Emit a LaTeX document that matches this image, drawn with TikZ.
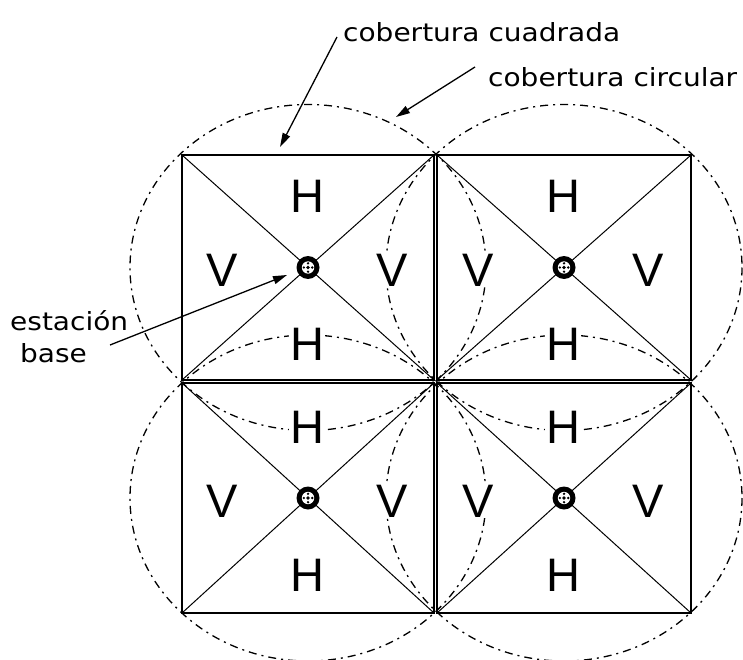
\documentclass[tikz,border=0pt]{standalone}
\usepackage{fontspec}
\setmainfont{Liberation Sans}
\newfontfamily\labelfont{DejaVu Sans}
\usetikzlibrary{arrows.meta,calc}
\begin{document}
\begin{tikzpicture}[x=1pt,y=-1pt,
  sq/.style={draw, line width=1.7pt},
  diag/.style={line width=1pt},
  cov/.style={line width=1.3pt, dash pattern=on 8pt off 5pt on 2pt off 5pt},
  letter/.style={inner sep=0.6pt, fill=white, font=\fontsize{47}{47}\selectfont},
  lbl/.style={inner sep=0pt, anchor=base west, font=\labelfont\fontsize{25}{25}\selectfont},
  pointer/.style={line width=1.3pt, -{Triangle[length=14pt,width=8pt]}},
]
\useasboundingbox (0,0) rectangle (743,660);
% square corners and centres
\foreach \n/\l/\t/\r/\b in {tl/182/155/434/380, tr/437/155/691/380, bl/182/383/434/613, br/437/383/691/613} {
  \coordinate (\n-nw) at (\l,\t);
  \coordinate (\n-ne) at (\r,\t);
  \coordinate (\n-sw) at (\l,\b);
  \coordinate (\n-se) at (\r,\b);
  \coordinate (\n-c) at ({(\l+\r)/2},{(\t+\b)/2});
}
% circular coverage
\foreach \n in {tl,tr,bl,br}
  \draw[cov] (\n-c) ellipse [x radius=178, y radius=163];
% square coverage with diagonals
\foreach \n in {tl,tr,bl,br} {
  \draw[sq] (\n-nw) rectangle (\n-se);
  \draw[diag] (\n-nw) -- (\n-se) (\n-ne) -- (\n-sw);
}
% letters and base stations
\foreach \n in {tl,tr,bl,br} {
  \node[letter] (\n-h1) at ($(\n-c)+(-1,-71)$) {H};
  \node[letter] (\n-h2) at ($(\n-c)+(-1,77)$) {H};
  \node[letter] (\n-v1) at ($(\n-c)+(-86,3)$) {V};
  \node[letter] (\n-v2) at ($(\n-c)+(84,3)$) {V};
  \node[circle, fill=black, minimum size=23pt, inner sep=0pt] (\n-st) at (\n-c) {};
  \fill[white] (\n-c) circle (6.2);
  \fill[black] (\n-c) circle (1.8);
  \foreach \dx/\dy in {4.2/0,-4.2/0,0/4.2,0/-4.2}
    \fill[black] ($(\n-c)+(\dx,\dy)$) circle (1.3);
}
% labels
\node[lbl] (cuad) at (343,42) {\scalebox{1.12}[1]{cobertura cuadrada}};
\node[lbl] (circ) at (488,87) {\scalebox{1.12}[1]{cobertura circular}};
\node[lbl] (est) at (10,330) {\scalebox{1.12}[1]{estación}};
\node[lbl] (base) at (20,362) {\scalebox{1.12}[1]{base}};
\coordinate (cuadtip) at (280,147);
\coordinate (circtip) at (396,117);
\coordinate (esttip) at (287,275);
\draw[pointer] ([xshift=-6pt,yshift=5pt]cuad.base west) -- (cuadtip);
\draw[pointer] ([xshift=-13pt,yshift=20pt]circ.base west) -- (circtip);
\draw[pointer] ([xshift=100pt,yshift=-15pt]est.base west) -- (esttip);
\end{tikzpicture}
\end{document}
